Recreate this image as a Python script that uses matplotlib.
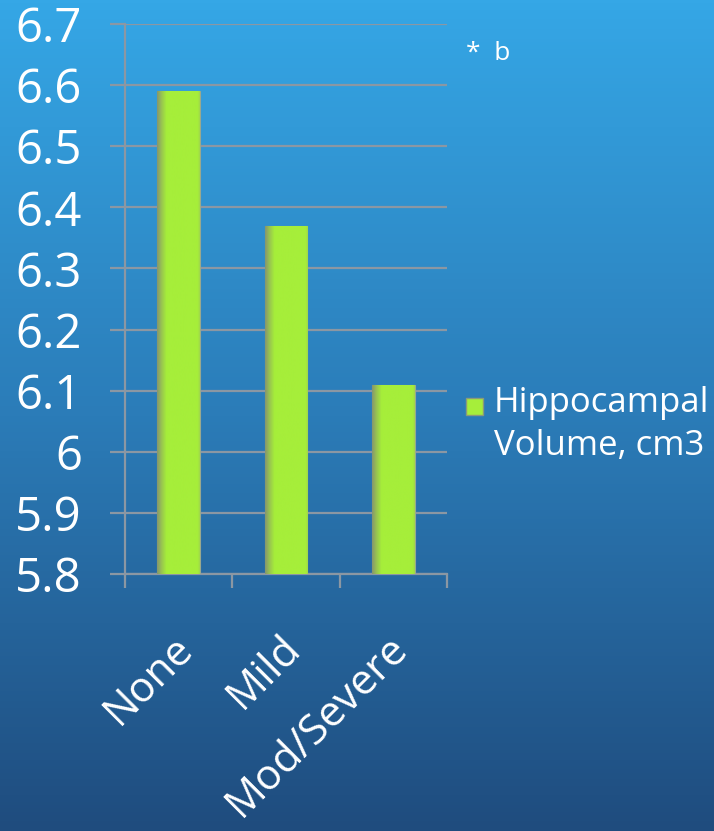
import numpy as np
import matplotlib.pyplot as plt
from matplotlib.colors import LinearSegmentedColormap
from matplotlib.patches import Rectangle
import matplotlib.transforms as mtransforms

plt.rcParams['font.family'] = ['Open Sans', 'DejaVu Sans']

categories = ["None", "Mild", "Mod/Severe"]
volumes = [6.59, 6.37, 6.11]
series_name = "Hippocampal\nVolume, cm3"
yticks = [5.8, 5.9, 6.0, 6.1, 6.2, 6.3, 6.4, 6.5, 6.6, 6.7]
ytick_labels = ["5.8", "5.9", "6", "6.1", "6.2", "6.3", "6.4", "6.5", "6.6", "6.7"]
note = "*  b"

W, H = 714, 831
fig = plt.figure(figsize=(W / 100, H / 100), dpi=100)

# vertical blue gradient behind everything
bg = fig.add_axes([0, 0, 1, 1], zorder=-10)
bg_cmap = LinearSegmentedColormap.from_list("bg", ["#1f4c7e", "#2b7cb8", "#35a7e6"])
bg.imshow(np.linspace(0, 1, 256).reshape(-1, 1), cmap=bg_cmap, aspect="auto",
          origin="lower", extent=[0, 1, 0, 1])
bg.axis("off")

grey = "#8b97a3"
ax = fig.add_axes([125 / W, 257 / H, 322 / W, 550 / H])
ax.set_facecolor("none")

x = np.arange(len(categories))
bars = ax.bar(x, volumes, width=0.4, color="#a6ee3a", edgecolor="#9aa88e",
              linewidth=0.8, zorder=3)

# shade the left side of each bar
bar_cmap = LinearSegmentedColormap.from_list(
    "bar", [(0, "#86966f"), (0.1, "#97c251"), (0.22, "#a6ee3a"),
            (0.95, "#a6ee3a"), (1, "#9fd84a")])
grad = np.linspace(0, 1, 200).reshape(1, -1)
for b in bars:
    x0, y0 = b.get_x(), b.get_y()
    im = ax.imshow(grad, cmap=bar_cmap, aspect="auto", zorder=3.5,
                   extent=[x0, x0 + b.get_width(), 5.8, y0 + b.get_height()])
    im.set_clip_path(b)
ax.set_xlim(-0.5, 2.5)
ax.set_ylim(5.8, 6.7)

ax.set_yticks(yticks)
ax.set_yticklabels(ytick_labels, fontsize=34, color="white")
ax.yaxis.grid(True, color=grey, linewidth=1.6, zorder=1)
ax.set_axisbelow(True)
ax.tick_params(axis="y", direction="out", length=11, width=1.6, color=grey, pad=20)

ax.set_xticks([-0.5, 0.5, 1.5, 2.5])
ax.set_xticklabels([])
ax.tick_params(axis="x", direction="out", length=10, width=1.6, color=grey)

for s in ["top", "right"]:
    ax.spines[s].set_visible(False)
for s in ["left", "bottom"]:
    ax.spines[s].set_color(grey)
    ax.spines[s].set_linewidth(1.6)

# rotated category names under each bar
offset = mtransforms.ScaledTranslation(8 / 100, -68 / 100, fig.dpi_scale_trans)
for xi, name in zip(x, categories):
    ax.text(xi, 0, name, transform=ax.get_xaxis_transform() + offset,
            rotation=45, rotation_mode="anchor", ha="right", va="center",
            fontsize=30.5, color="white")

# legend entry
fig.patches.append(Rectangle((466 / W, 1 - 415 / H), 17 / W, 17 / H,
                             transform=fig.transFigure, facecolor="#a6ee3a",
                             edgecolor="#8a9a7a", linewidth=1))
fig.text(494 / W, 1 - 386 / H, series_name, fontsize=25, color="white",
         va="top", ha="left", linespacing=1.35)

fig.text(466 / W, 1 - 54 / H, note, fontsize=19, color="white", va="center", ha="left")

fig.savefig("out.png", dpi=100)
